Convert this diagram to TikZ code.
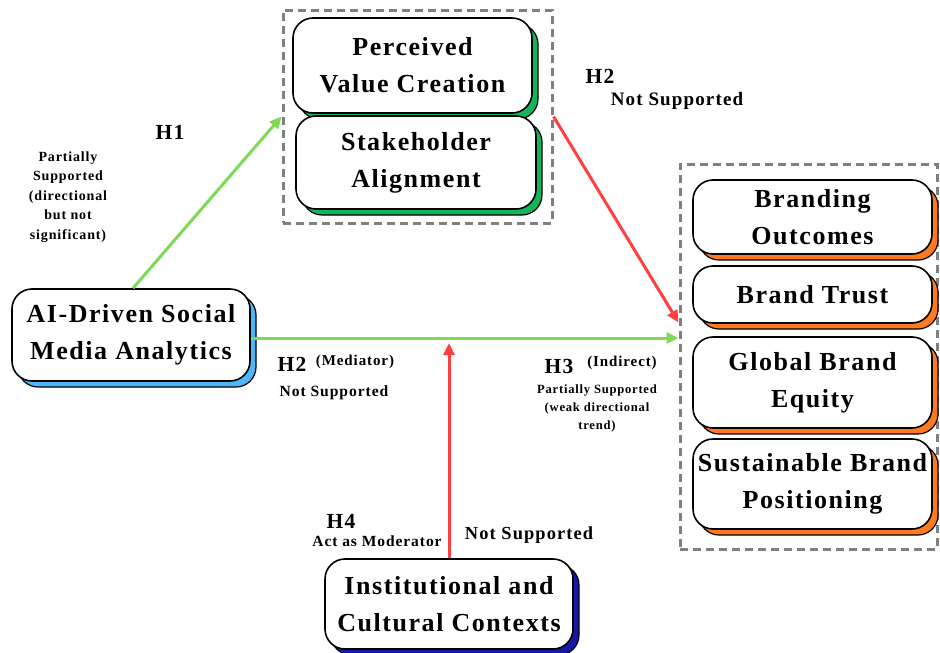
\documentclass[tikz,border=0pt]{standalone}
\usepackage{fontspec}
\setmainfont[LetterSpace=6]{Liberation Serif}
\usetikzlibrary{arrows.meta,shapes,positioning,shadows}
\definecolor{lgreen}{RGB}{126,217,87}
\definecolor{lred}{RGB}{255,64,64}
\definecolor{skyblue}{RGB}{80,182,250}
\definecolor{dgreen}{RGB}{20,180,90}
\definecolor{dorange}{RGB}{255,122,30}
\definecolor{dnavy}{RGB}{24,24,168}
\tikzstyle{box} = [draw, line width=1.6pt, rounded corners=20pt, fill=white, align=center, font=\bfseries\fontsize{26}{37}\selectfont]
\tikzset{shbox/.style={box, general shadow={shadow xshift=6pt, shadow yshift=-6pt, fill=#1, draw=black, line width=1.2pt}}}
\tikzstyle{grp} = [draw=gray, dashed, dash pattern=on 8pt off 5pt, line width=3pt]
\tikzstyle{garrow} = [line width=3pt, -{Triangle[length=12pt,width=11pt]}, color=lgreen]
\tikzstyle{rarrow} = [line width=3pt, -{Triangle[length=12pt,width=11pt]}, color=lred]
\tikzstyle{hyp} = [font=\bfseries\fontsize{21.5}{24}\selectfont]
\tikzstyle{note} = [align=center, font=\bfseries\fontsize{14}{19.5}\selectfont]

\begin{document}
\begin{tikzpicture}[x=1pt, y=-1pt]
    \useasboundingbox (0,0) rectangle (940,653);

    % Groups
    \node[grp, minimum width=269pt, minimum height=213pt] (mid) at (417.5,116.5) {};
    \node[grp, minimum width=257pt, minimum height=385pt] (out) at (808.5,356.5) {};

    % Boxes
    \node[shbox=skyblue, minimum width=238pt, minimum height=92pt] (ai) at (131,335) {AI-Driven Social\\Media Analytics};
    \node[shbox=dgreen, minimum width=239pt, minimum height=95pt] (pvc) at (412.5,65.5) {Perceived\\Value Creation};
    \node[shbox=dgreen, minimum width=240pt, minimum height=93pt] (sa) at (416,162.5) {Stakeholder\\Alignment};
    \node[shbox=dnavy, minimum width=248pt, minimum height=90pt] (icc) at (449,604) {Institutional and\\Cultural Contexts};
    \foreach \nm/\y/\h/\txt in {bo/217/74/{Branding\\Outcomes}, bt/294.5/57/{Brand Trust}, gbe/382.5/91/{Global Brand\\Equity}, sbp/484/90/{Sustainable Brand\\Positioning}} {
        \node[shbox=dorange, minimum width=239pt, minimum height=\h pt] (\nm) at (812.5,\y) {\txt};
    }

    % Paths
    \coordinate (mod) at (449,343);
    \draw[garrow] (ai.north) ++(2,0) -- (mid.west);
    \draw[garrow] ([yshift=-3pt]ai.east) -- ([yshift=-3pt]ai.east -| out.west);
    \draw[rarrow] (mid.east) -- ([yshift=34pt]out.west);
    \draw[rarrow] (icc.north) -- (mod);

    % Labels
    \node[hyp] (h1) at (170,132) {H1};
    \node[note] (h1n) at (68,197) {Partially\\Supported\\(directional\\but not\\significant)};
    \node[hyp] (h2a) at (600,76) {H2};
    \node[note, font=\bfseries\fontsize{19}{18}\selectfont] (h2an) at (677,101) {Not Supported};
    \node[hyp] (h2b) at (292,364) {H2};
    \node[note, font=\bfseries\fontsize{15}{18}\selectfont] (h2bm) at (355,362) {(Mediator)};
    \node[note, font=\bfseries\fontsize{15.6}{18}\selectfont] (h2bn) at (334,393) {Not Supported};
    \node[hyp] (h3) at (559,366) {H3};
    \node[note, font=\bfseries\fontsize{15}{18}\selectfont] (h3i) at (622,363) {(Indirect)};
    \node[note, font=\bfseries\fontsize{12.6}{18}\selectfont] (h3n) at (597,408) {Partially Supported\\(weak directional\\trend)};
    \node[hyp] (h4) at (341,521) {H4};
    \node[note, font=\bfseries\fontsize{15.5}{18}\selectfont] (h4m) at (377,541) {Act as Moderator};
    \node[note, font=\bfseries\fontsize{18.4}{18}\selectfont] (h4n) at (529,535) {Not Supported};
\end{tikzpicture}
\end{document}
